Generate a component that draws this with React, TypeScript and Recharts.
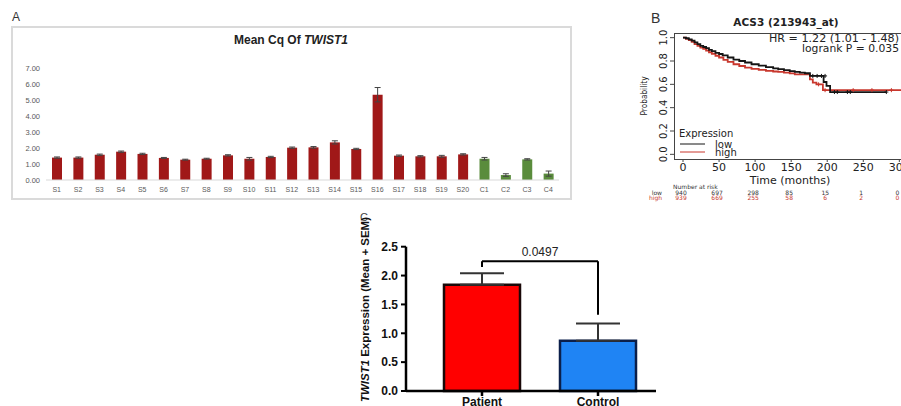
import React from 'react';
import {
  BarChart, Bar, XAxis, YAxis, Cell, ErrorBar, ComposedChart, Line, Scatter, ReferenceLine,
} from 'recharts';

// ---------- Panel A data ----------
const sampleLabels = ['S1','S2','S3','S4','S5','S6','S7','S8','S9','S10','S11','S12','S13','S14','S15','S16','S17','S18','S19','S20','C1','C2','C3','C4'];
const meanCq = [1.40,1.40,1.58,1.77,1.63,1.38,1.27,1.33,1.54,1.33,1.44,2.02,2.04,2.35,1.94,5.33,1.52,1.48,1.48,1.60,1.33,0.31,1.29,0.40];
const meanCqErr = [0.04,0.04,0.04,0.04,0.04,0.03,0.03,0.03,0.04,0.08,0.04,0.04,0.05,0.10,0.04,0.45,0.04,0.04,0.06,0.04,0.08,0.08,0.04,0.16];
const cqTicks = [0,1,2,3,4,5,6,7];

// ---------- Panel B data (Kaplan-Meier) ----------
const kmLowTime = [0,4,8,12,16,20,24,28,32,36,40,45,50,55,62,70,78,86,95,105,115,125,132,140,148,155,162,169,176,195,199,204,282];
const kmLowSurv = [1.0,0.995,0.985,0.975,0.96,0.945,0.93,0.92,0.91,0.895,0.885,0.87,0.86,0.848,0.83,0.812,0.80,0.787,0.772,0.76,0.748,0.737,0.73,0.722,0.713,0.707,0.70,0.695,0.672,0.62,0.586,0.534,0.534];
const kmHighTime = [0,4,8,12,16,20,24,28,32,36,40,45,50,56,62,70,78,86,95,105,115,125,132,140,148,155,169,176,180,185,194,312];
const kmHighSurv = [1.0,0.99,0.98,0.965,0.945,0.93,0.915,0.905,0.89,0.875,0.862,0.845,0.83,0.81,0.793,0.772,0.757,0.744,0.733,0.724,0.716,0.71,0.707,0.70,0.694,0.686,0.686,0.643,0.615,0.60,0.55,0.55];
const lowCensorTime = [180,186,192,197,210,214,228,232,282];
const lowCensorSurv = [0.672,0.672,0.672,0.672,0.534,0.534,0.534,0.534,0.534];
const highCensorTime = [188,197,236,262,289];
const highCensorSurv = [0.60,0.55,0.55,0.55,0.55];
const kmTicks = [0,50,100,150,200,250,300];
const kmYTicks = [0,0.2,0.4,0.6,0.8,1.0];
const riskLow = [940,697,298,85,15,1,0];
const riskHigh = [939,669,255,58,6,2,0];

// ---------- Panel C data ----------
const groupNames = ['Patient','Control'];
const groupMeans = [1.84,0.87];
const groupSem = [0.20,0.30];
const exprTicks = [0,0.5,1.0,1.5,2.0,2.5];
const pValueText = '0.0497';
const bracketTop = 2.25;
const bracketLegs = [2.15,1.32];

const RED_A = '#a01818';
const GREEN_A = '#5a8c3c';
const KM_LOW = '#151515';
const KM_HIGH = '#c8372d';
const DV = 'DejaVu Sans, sans-serif';
const AR = 'Liberation Sans, Arial, sans-serif';

const cqData = sampleLabels.map((name, i) => ({ name, v: meanCq[i], e: meanCqErr[i] }));
const lowData = kmLowTime.map((t, i) => ({ t, s: kmLowSurv[i] }));
const highData = kmHighTime.map((t, i) => ({ t, s: kmHighSurv[i] }));
const lowCens = lowCensorTime.map((t, i) => ({ t, s: lowCensorSurv[i] }));
const highCens = highCensorTime.map((t, i) => ({ t, s: highCensorSurv[i] }));
const grpData = groupNames.map((name, i) => ({ name, m: groupMeans[i], sem: [0, groupSem[i]] }));

const KmXTick = (props: any) => {
  const { x, y, payload } = props;
  const i = kmTicks.indexOf(payload.value);
  return (
    <g fontFamily={DV}>
      <text x={x} y={y + 9} textAnchor="middle" fontSize={11} fill="#222">{payload.value}</text>
      <text x={x - 2} y={y + 32.5} textAnchor="middle" fontSize={6} fill="#333">{riskLow[i]}</text>
      <text x={x - 2} y={y + 37.5} textAnchor="middle" fontSize={6} fill={KM_HIGH}>{riskHigh[i]}</text>
    </g>
  );
};

const KmYTick = (props: any) => {
  const { x, y, payload } = props;
  return (
    <text x={x} y={y} transform={`rotate(-90 ${x} ${y})`} textAnchor="middle" fontSize={10} fill="#222" fontFamily={DV}>
      {Number(payload.value).toFixed(1)}
    </text>
  );
};

const censorShape = (color: string) => (props: any) => {
  const { cx, cy } = props;
  return <path d={`M${cx - 2},${cy}h4M${cx},${cy - 2}v4`} stroke={color} strokeWidth={1} fill="none" />;
};

export default function App() {
  return (
    <div style={{ position: 'absolute', left: 0, top: 0, width: 901, height: 406, overflow: 'hidden', background: '#fff', fontFamily: AR }}>
      {/* Panel A frame */}
      <div style={{ position: 'absolute', left: 11, top: 26, width: 561, height: 174, border: '2px solid #dadada', boxSizing: 'border-box' }} />
      <div style={{ position: 'absolute', left: 11, top: 27 }}>
        <BarChart width={560} height={172} data={cqData} margin={{ top: 41, right: 12, bottom: 0, left: 0 }} barSize={10}>
          <XAxis dataKey="name" interval={0} axisLine={{ stroke: '#d9d9d9', strokeWidth: 1 }} tickLine={false} tickSize={0} tickMargin={7.5}
            tick={{ fontSize: 7, fill: '#595959', fontFamily: AR }} height={19} />
          <YAxis domain={[0, 7]} ticks={cqTicks} interval={0} tickFormatter={(v: number) => v.toFixed(2)} axisLine={false} tickLine={false}
            tickSize={0} tickMargin={6} width={35} tick={{ fontSize: 7.5, fill: '#595959', fontFamily: AR }} />
          <Bar dataKey="v" isAnimationActive={false}>
            {cqData.map((d) => (
              <Cell key={d.name} fill={d.name.startsWith('C') ? GREEN_A : RED_A} />
            ))}
            <ErrorBar dataKey="e" width={3} stroke="#444" strokeWidth={1} direction="y" />
          </Bar>
        </BarChart>
      </div>

      {/* Panel B */}
      <div style={{ position: 'absolute', left: 630, top: 0 }}>
        <ComposedChart width={300} height={210} margin={{ top: 33, right: 13, bottom: 0, left: 0 }}>
          <XAxis dataKey="t" type="number" domain={[-12.5, 324.5]} allowDataOverflow ticks={kmTicks} interval={0}
            axisLine={false} tickLine={{ stroke: '#444' }} tickSize={3} tickMargin={0} tick={<KmXTick />} height={51} />
          <YAxis type="number" domain={[-0.04, 1.04]} allowDataOverflow ticks={kmYTicks} interval={0}
            axisLine={false} tickLine={{ stroke: '#444' }} tickSize={4} tickMargin={3} tick={<KmYTick />} width={44} />
          <Line data={highData} dataKey="s" type="stepAfter" stroke={KM_HIGH} strokeWidth={1.8} dot={false} isAnimationActive={false} />
          <Line data={lowData} dataKey="s" type="stepAfter" stroke={KM_LOW} strokeWidth={1.8} dot={false} isAnimationActive={false} />
          <Scatter data={highCens} dataKey="s" shape={censorShape(KM_HIGH)} isAnimationActive={false} />
          <Scatter data={lowCens} dataKey="s" shape={censorShape(KM_LOW)} isAnimationActive={false} />
        </ComposedChart>
      </div>
      <div style={{ position: 'absolute', left: 674, top: 33, width: 243, height: 127, border: '1px solid #444', boxSizing: 'border-box' }} />

      {/* Panel C */}
      <div style={{ position: 'absolute', left: 340, top: 230 }}>
        <BarChart width={330} height={176} data={grpData} margin={{ top: 16.7, right: 14, bottom: 0, left: 0 }} barSize={76}>
          <XAxis dataKey="name" interval={0} padding={{ left: 18, right: 0 }} axisLine={{ stroke: '#000', strokeWidth: 2.5 }}
            tickLine={{ stroke: '#000', strokeWidth: 2.5 }} tickSize={5} tickMargin={1} height={15}
            tick={{ fontSize: 12, fontWeight: 'bold', fill: '#111', fontFamily: AR }} />
          <YAxis domain={[0, 2.5]} ticks={exprTicks} interval={0} tickFormatter={(v: number) => v.toFixed(1)}
            axisLine={{ stroke: '#000', strokeWidth: 2.5 }} tickLine={{ stroke: '#000', strokeWidth: 2 }} tickSize={5} tickMargin={3} width={66}
            tick={{ fontSize: 12, fontWeight: 'bold', fill: '#111', fontFamily: AR }} />
          <Bar dataKey="m" strokeWidth={2.5} isAnimationActive={false}>
            <Cell fill="#ff0000" stroke="#1a0808" />
            <Cell fill="#1f84f4" stroke="#0b1f4a" />
            <ErrorBar dataKey="sem" width={22} stroke="#333" strokeWidth={2} direction="y" />
          </Bar>
          <ReferenceLine segment={[{ x: groupNames[0], y: bracketLegs[0] }, { x: groupNames[0], y: bracketTop }]} stroke="#000" strokeWidth={2} />
          <ReferenceLine segment={[{ x: groupNames[1], y: bracketLegs[1] }, { x: groupNames[1], y: bracketTop }]} stroke="#000" strokeWidth={2} />
          <ReferenceLine segment={[{ x: groupNames[0], y: bracketTop }, { x: groupNames[1], y: bracketTop }]} stroke="#000" strokeWidth={2}
            label={{ value: pValueText, position: 'top', offset: 5, fontSize: 12, fill: '#222', fontFamily: AR }} />
        </BarChart>
      </div>

      {/* Text overlay */}
      <svg width={901} height={406} style={{ position: 'absolute', left: 0, top: 0, pointerEvents: 'none' }}>
        <text x={12} y={21} fontSize={12} fill="#333" fontFamily={AR}>A</text>
        <text x={291} y={44} fontSize={12} fontWeight="bold" fill="#222" textAnchor="middle" fontFamily={AR}>
          Mean Cq Of <tspan fontStyle="italic">TWIST1</tspan>
        </text>

        <text x={651} y={22.5} fontSize={14} fill="#333" fontFamily={AR}>B</text>
        <text x={786} y={26} fontSize={10.5} fontWeight="bold" fill="#222" textAnchor="middle" fontFamily={DV}>ACS3 (213943_at)</text>
        <text x={899} y={41.5} fontSize={10} fill="#222" textAnchor="end" fontFamily={DV} textLength={130} lengthAdjust="spacingAndGlyphs">HR = 1.22 (1.01 - 1.48)</text>
        <text x={899} y={51.5} fontSize={10} fill="#222" textAnchor="end" fontFamily={DV} textLength={97} lengthAdjust="spacingAndGlyphs">logrank P = 0.035</text>
        <text x={647} y={96} fontSize={9.5} fill="#222" textAnchor="middle" fontFamily={DV} transform="rotate(-90 647 96)"
          textLength={39} lengthAdjust="spacingAndGlyphs">Probability</text>
        <text x={790} y={184} fontSize={11} fill="#222" textAnchor="middle" fontFamily={DV}>Time (months)</text>
        <text x={679} y={136.5} fontSize={10} fill="#222" fontFamily={DV}>Expression</text>
        <line x1={680} x2={705} y1={144} y2={144} stroke={KM_LOW} strokeWidth={1} />
        <text x={715} y={147.5} fontSize={10} fill="#222" fontFamily={DV}>low</text>
        <line x1={680} x2={705} y1={152} y2={152} stroke={KM_HIGH} strokeWidth={1} />
        <text x={715} y={155.5} fontSize={10} fill="#222" fontFamily={DV}>high</text>
        <text x={673} y={188.5} fontSize={6} fill="#333" fontFamily={DV}>Number at risk</text>
        <text x={662} y={194.5} fontSize={6} fill="#333" textAnchor="end" fontFamily={DV}>low</text>
        <text x={662} y={199.5} fontSize={6} fill={KM_HIGH} textAnchor="end" fontFamily={DV}>high</text>

        <text x={360} y={221} fontSize={11} fill="#444" fontFamily={AR}>C</text>
        <text x={369} y={309.5} fontSize={11} fontWeight="bold" fill="#111" textAnchor="middle" fontFamily={AR}
          transform="rotate(-90 369 309.5)" textLength={185} lengthAdjust="spacingAndGlyphs">
          <tspan fontStyle="italic">TWIST1</tspan> Expression (Mean + SEM)
        </text>
      </svg>
    </div>
  );
}
